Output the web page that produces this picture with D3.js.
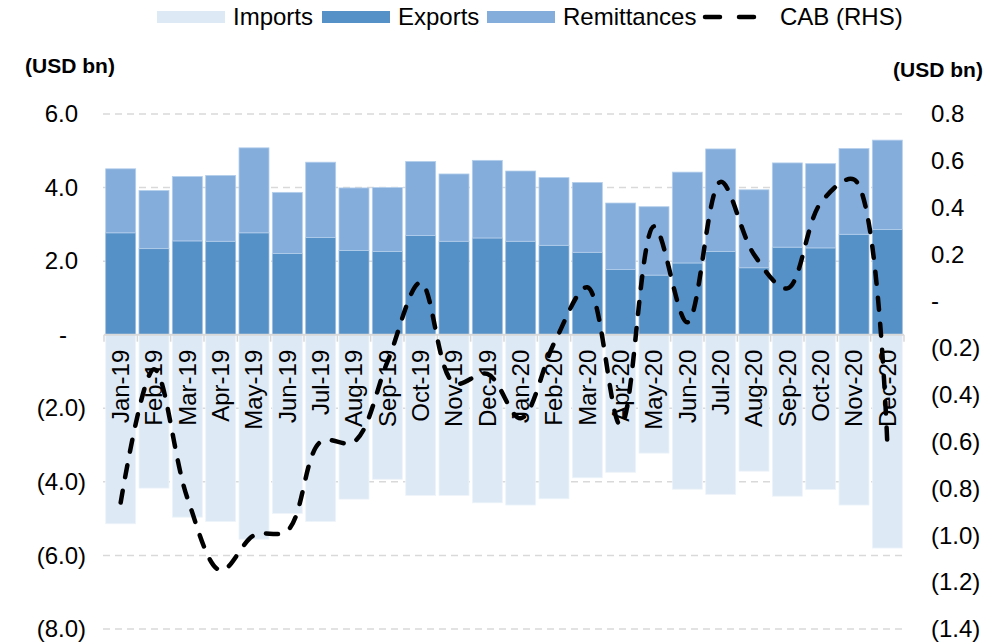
<!DOCTYPE html>
<html>
<head>
<meta charset="utf-8">
<script src="https://cdn.jsdelivr.net/npm/d3@7"></script>
<style>
  body { margin: 0; background: #fff; }
  svg text { font-family: Arial, "Liberation Sans", sans-serif; fill: #000; }
</style>
</head>
<body>
<div id="chart"></div>
<script>
// data (USD bn)
const months = ['Jan-19', 'Feb-19', 'Mar-19', 'Apr-19', 'May-19', 'Jun-19', 'Jul-19', 'Aug-19', 'Sep-19', 'Oct-19', 'Nov-19', 'Dec-19',
  'Jan-20', 'Feb-20', 'Mar-20', 'Apr-20', 'May-20', 'Jun-20', 'Jul-20', 'Aug-20', 'Sep-20', 'Oct-20', 'Nov-20', 'Dec-20'];
const imports = [-5.14, -4.17, -4.96, -5.08, -5.56, -4.86, -5.08, -4.47, -3.93, -4.37, -4.37, -4.57,
  -4.63, -4.46, -3.89, -3.74, -3.22, -4.20, -4.34, -3.71, -4.39, -4.21, -4.63, -5.80];
const exportsV = [2.77, 2.34, 2.55, 2.54, 2.77, 2.21, 2.64, 2.29, 2.26, 2.70, 2.54, 2.63,
  2.54, 2.43, 2.24, 1.77, 1.62, 1.95, 2.26, 1.82, 2.38, 2.36, 2.73, 2.86];
const remittances = [1.74, 1.58, 1.75, 1.79, 2.31, 1.66, 2.05, 1.70, 1.74, 2.01, 1.83, 2.11,
  1.91, 1.84, 1.90, 1.81, 1.86, 2.47, 2.79, 2.12, 2.29, 2.29, 2.33, 2.43];
const cab = [-0.86, -0.29, -0.84, -1.15, -1.00, -0.98, -0.60, -0.60, -0.26, 0.08, -0.35, -0.31,
  -0.50, -0.18, 0.06, -0.53, 0.32, -0.09, 0.51, 0.20, 0.055, 0.42, 0.52, -0.61];
const leftTicks = [-8, -6, -4, -2, 0, 2, 4, 6];
const rightTicks = [-1.4, -1.2, -1.0, -0.8, -0.6, -0.4, -0.2, 0, 0.2, 0.4, 0.6, 0.8];

const colors = { imports: '#dde9f5', exports: '#5590c7', remittances: '#84addb', grid: '#d9d9d9' };

const width = 1007, height = 644;
const plot = { left: 104, right: 904, top: 114, bottom: 629 };

const svg = d3.select('#chart').append('svg')
  .attr('width', width)
  .attr('height', height);

// scales
const x = d3.scaleBand().domain(months).range([plot.left, plot.right]).paddingInner(0.1).paddingOuter(0.05);
const y = d3.scaleLinear().domain([-8, 6]).range([plot.bottom, plot.top]);
const yR = d3.scaleLinear().domain([-1.4, 0.8]).range([plot.bottom, plot.top]);

const fmt = v => {
  if (Math.abs(v) < 1e-9) return '-';
  const s = d3.format('.1f')(Math.abs(v));
  return v < 0 ? '(' + s + ')' : s;
};

// gridlines
svg.append('g')
  .selectAll('line')
  .data(leftTicks.filter(d => d !== 0))
  .enter()
  .append('line')
  .attr('x1', plot.left - 1)
  .attr('x2', plot.right)
  .attr('y1', d => y(d))
  .attr('y2', d => y(d))
  .attr('stroke', colors.grid)
  .attr('stroke-width', 1.5)
  .attr('stroke-dasharray', '7,5');

// stacked bars
const rows = months.map((m, i) => ({ m, imp: imports[i], exp: exportsV[i], rem: remittances[i] }));
const bars = svg.append('g');
bars.selectAll('.imp').data(rows).enter().append('rect')
  .attr('x', d => x(d.m))
  .attr('width', x.bandwidth())
  .attr('y', y(0))
  .attr('height', d => y(d.imp) - y(0))
  .attr('fill', colors.imports)
  .attr('stroke', '#eef4fa').attr('stroke-width', 0.8);
bars.selectAll('.exp').data(rows).enter().append('rect')
  .attr('x', d => x(d.m))
  .attr('width', x.bandwidth())
  .attr('y', d => y(d.exp))
  .attr('height', d => y(0) - y(d.exp))
  .attr('fill', colors.exports)
  .attr('stroke', '#9dbfe2').attr('stroke-width', 0.8);
bars.selectAll('.rem').data(rows).enter().append('rect')
  .attr('x', d => x(d.m))
  .attr('width', x.bandwidth())
  .attr('y', d => y(d.exp + d.rem))
  .attr('height', d => y(d.exp) - y(d.exp + d.rem))
  .attr('fill', colors.remittances)
  .attr('stroke', '#b5cfec').attr('stroke-width', 0.8);

// zero axis with tick marks at band boundaries
const step = x.step();
const xAxis = svg.append('g')
  .attr('transform', `translate(0,${y(0)})`)
  .call(d3.axisBottom(x).tickSize(0));
xAxis.select('.domain').remove();
xAxis.selectAll('text')
  .attr('transform', 'rotate(-90)')
  .attr('x', -15)
  .attr('y', 0)
  .attr('dy', '0.35em')
  .style('text-anchor', 'end')
  .style('font-size', '24px');
svg.append('line')
  .attr('x1', plot.left).attr('x2', plot.right)
  .attr('y1', y(0)).attr('y2', y(0))
  .attr('stroke', colors.grid).attr('stroke-width', 2);
svg.append('g').selectAll('line')
  .data(d3.range(months.length + 1))
  .enter().append('line')
  .attr('x1', i => plot.left + i * step)
  .attr('x2', i => plot.left + i * step)
  .attr('y1', y(0))
  .attr('y2', y(0) + 7)
  .attr('stroke', colors.grid).attr('stroke-width', 1.5);

// left axis
const yAxis = svg.append('g')
  .attr('transform', 'translate(86,0)')
  .call(d3.axisLeft(y).tickValues(leftTicks).tickFormat(fmt).tickSize(0).tickPadding(0));
yAxis.select('.domain').remove();
yAxis.selectAll('text')
  .style('font-size', '24px')
  .attr('dx', d => d > 0 ? -8 : (d === 0 ? -19 : 0));

// right axis
const yAxisR = svg.append('g')
  .attr('transform', 'translate(931,0)')
  .call(d3.axisRight(yR).tickValues(rightTicks).tickFormat(fmt).tickSize(0).tickPadding(0));
yAxisR.select('.domain').remove();
yAxisR.selectAll('text').style('font-size', '24px');

// CAB line
const line = d3.line()
  .x((d, i) => x(months[i]) + x.bandwidth() / 2)
  .y(d => yR(d))
  .curve(d3.curveCatmullRom.alpha(0.5));
svg.append('path')
  .datum(cab)
  .attr('d', line)
  .attr('fill', 'none')
  .attr('stroke', '#000')
  .attr('stroke-width', 4.5)
  .attr('stroke-linecap', 'round')
  .attr('stroke-dasharray', '12,14');

// axis titles
svg.append('text').attr('x', 70).attr('y', 66).attr('dy', '0.35em')
  .attr('text-anchor', 'middle').style('font-size', '21px').style('font-weight', 'bold').text('(USD bn)');
svg.append('text').attr('x', 938).attr('y', 70).attr('dy', '0.35em')
  .attr('text-anchor', 'middle').style('font-size', '21px').style('font-weight', 'bold').text('(USD bn)');

// legend
const legendY = 17;
const legend = svg.append('g');
[['Imports', colors.imports, 157], ['Exports', colors.exports, 322], ['Remittances', colors.remittances, 487]]
  .forEach(([name, c, lx]) => {
    legend.append('rect').attr('x', lx).attr('y', legendY - 6).attr('width', 68).attr('height', 12).attr('fill', c);
    legend.append('text').attr('x', lx + 76).attr('y', legendY).attr('dy', '0.35em')
      .style('font-size', '24px').text(name);
  });
legend.append('line')
  .attr('x1', 705).attr('x2', 755).attr('y1', legendY).attr('y2', legendY)
  .attr('stroke', '#000').attr('stroke-width', 4.5).attr('stroke-linecap', 'round')
  .attr('stroke-dasharray', '15,19');
legend.append('text').attr('x', 780).attr('y', legendY).attr('dy', '0.35em')
  .style('font-size', '24px').text('CAB (RHS)');
</script>
</body>
</html>
